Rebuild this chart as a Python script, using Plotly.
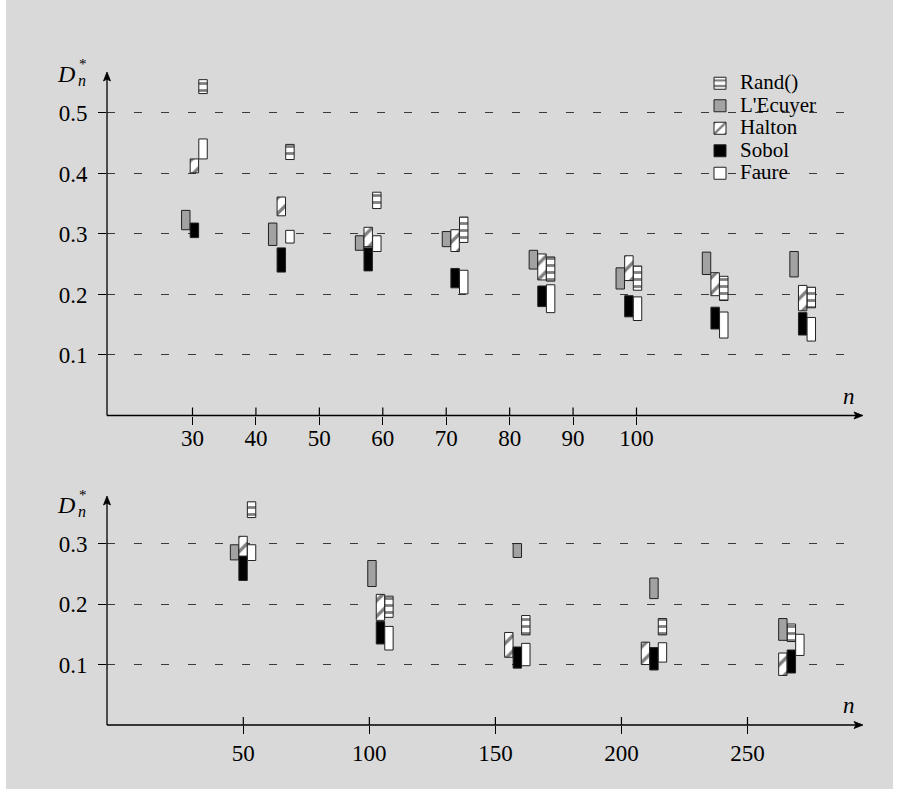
import plotly.graph_objects as go

# ---------------- data ----------------
methods = ["Rand()", "L'Ecuyer", "Halton", "Sobol", "Faure"]

# top panel
n_top = [30, 40, 50, 60, 70, 80, 90, 100]
top_lo = {
    "Rand()":   [0.532, 0.423, 0.342, 0.286, 0.222, 0.207, 0.190, 0.178],
    "L'Ecuyer": [0.307, 0.281, 0.273, 0.279, 0.242, 0.209, 0.233, 0.229],
    "Halton":   [0.401, 0.330, 0.279, 0.271, 0.224, 0.223, 0.198, 0.173],
    "Sobol":    [0.294, 0.237, 0.239, 0.211, 0.180, 0.163, 0.143, 0.133],
    "Faure":    [0.424, 0.285, 0.271, 0.201, 0.170, 0.157, 0.128, 0.123],
}
top_hi = {
    "Rand()":   [0.555, 0.448, 0.369, 0.328, 0.262, 0.247, 0.230, 0.212],
    "L'Ecuyer": [0.339, 0.318, 0.297, 0.304, 0.273, 0.244, 0.270, 0.271],
    "Halton":   [0.424, 0.361, 0.311, 0.307, 0.267, 0.264, 0.236, 0.215],
    "Sobol":    [0.318, 0.277, 0.277, 0.243, 0.214, 0.198, 0.179, 0.170],
    "Faure":    [0.457, 0.306, 0.297, 0.240, 0.216, 0.196, 0.171, 0.162],
}

# bottom panel
n_bot = [50, 100, 150, 200, 250]
bot_lo = {
    "Rand()":   [0.343, 0.178, 0.149, 0.149, 0.138],
    "L'Ecuyer": [0.273, 0.229, 0.277, 0.209, 0.140],
    "Halton":   [0.279, 0.173, 0.112, 0.100, 0.082],
    "Sobol":    [0.239, 0.134, 0.094, 0.091, 0.086],
    "Faure":    [0.272, 0.124, 0.098, 0.104, 0.115],
}
bot_hi = {
    "Rand()":   [0.369, 0.213, 0.181, 0.176, 0.167],
    "L'Ecuyer": [0.298, 0.272, 0.300, 0.243, 0.176],
    "Halton":   [0.312, 0.216, 0.153, 0.137, 0.119],
    "Sobol":    [0.279, 0.171, 0.129, 0.128, 0.124],
    "Faure":    [0.298, 0.163, 0.135, 0.136, 0.150],
}

y_ticks_top = [0.1, 0.2, 0.3, 0.4, 0.5]
y_ticks_bot = [0.1, 0.2, 0.3]

# ---------------- layout helpers (positions / styles) ----------------
W, H = 899, 805
L, R, T, B = 107, 49, 73, 80
PW, PH = W - L - R, H - T - B


def px_x(px):
    return (px - L) / PW


def px_y(py):
    return (H - B - py) / PH


def px_path(points):
    return "M" + " L".join(f"{px_x(a):.5f},{px_y(b):.5f}" for a, b in points) + " Z"


# where each group of bars is drawn on the axis (as in the original figure)
slot_top = [30.3, 44.0, 57.7, 71.4, 85.1, 98.8, 112.4, 126.2]
slot_bot = [49.9, 104.4, 158.7, 212.9, 267.4]
# column inside a group (-1 left, 0 middle, 1 right)
col_top = {"Rand()": [1] * 8, "L'Ecuyer": [-1] * 8, "Halton": [0] * 8,
           "Sobol": [0] * 8, "Faure": [1] * 8}
col_bot = {"Rand()": [1, 1, 1, 1, 0], "L'Ecuyer": [-1, -1, 0, 0, -1],
           "Halton": [0, 0, -1, -1, -1], "Sobol": [0, 0, 0, 0, 0],
           "Faure": [1, 1, 1, 1, 1]}
colstep_top, width_top = 1.36, 1.33
colstep_bot, width_bot = 3.37, 3.33

style = {
    "Rand()": dict(color="white", pattern=dict(shape="-", fgcolor="black", bgcolor="white",
                                                size=7, solidity=0.4)),
    "L'Ecuyer": dict(color="#a2a2a2"),
    "Halton": dict(color="white", pattern=dict(shape="/", fgcolor="black", bgcolor="white",
                                                size=11, solidity=0.3)),
    "Sobol": dict(color="black"),
    "Faure": dict(color="white"),
}

SERIF = "Liberation Serif, Times New Roman, serif"

fig = go.Figure()

for m in methods:
    st = style[m]
    marker = dict(color=st["color"], line=dict(color="#222222", width=1))
    if "pattern" in st:
        marker["pattern"] = st["pattern"]
    fig.add_trace(go.Bar(
        x=[s + c * colstep_top for s, c in zip(slot_top, col_top[m])],
        y=[h - l for h, l in zip(top_hi[m], top_lo[m])],
        base=top_lo[m], width=width_top,
        name=f'<span style="font-size:21px">{m}</span>', legendgroup=m,
        marker=marker, xaxis="x", yaxis="y", showlegend=True,
        customdata=n_top, hovertemplate="n=%{customdata}<extra>" + m + "</extra>",
    ))
for m in methods:
    st = style[m]
    marker = dict(color=st["color"], line=dict(color="#222222", width=1))
    if "pattern" in st:
        marker["pattern"] = st["pattern"]
    fig.add_trace(go.Bar(
        x=[s + c * colstep_bot for s, c in zip(slot_bot, col_bot[m])],
        y=[h - l for h, l in zip(bot_hi[m], bot_lo[m])],
        base=bot_lo[m], width=width_bot, name=m, legendgroup=m,
        marker=marker, xaxis="x2", yaxis="y2", showlegend=False,
        customdata=n_bot, hovertemplate="n=%{customdata}<extra>" + m + "</extra>",
    ))

top_xrange = [16.52, 133.66]
bot_xrange = [-4.07, 290.66]
tickfont = dict(family=SERIF, size=23, color="black")

common_x = dict(ticks="outside", ticklen=8, tickwidth=1.2, tickcolor="black",
                showgrid=False, zeroline=False, showline=False, tickfont=tickfont,
                fixedrange=True)
common_y = dict(ticks="outside", ticklen=8, tickwidth=1.2, tickcolor="black",
                showgrid=True, gridcolor="#3a3a3a", gridwidth=1, griddash="8px,19px",
                zeroline=False, showline=False, tickfont=tickfont, ticklabelstandoff=6,
                fixedrange=True)

# axis lines + arrow heads
ax_line = dict(type="line", xref="paper", yref="paper", line=dict(color="black", width=1.3))
head = dict(type="path", xref="paper", yref="paper", fillcolor="black",
            line=dict(color="black", width=0.8))
shapes = [
    dict(type="rect", xref="paper", yref="paper", x0=px_x(6), x1=px_x(893),
         y0=px_y(789), y1=px_y(0), fillcolor="#d9d9d9", line=dict(width=0), layer="below"),
    dict(x0=px_x(107), x1=px_x(107), y0=px_y(415.5), y1=px_y(75), **ax_line),
    dict(x0=px_x(107), x1=px_x(860), y0=px_y(415.5), y1=px_y(415.5), **ax_line),
    dict(x0=px_x(107), x1=px_x(107), y0=px_y(725), y1=px_y(499), **ax_line),
    dict(x0=px_x(107), x1=px_x(860), y0=px_y(725), y1=px_y(725), **ax_line),
    dict(path=px_path([(107, 72), (103.5, 81), (107, 79), (110.5, 81)]), **head),
    dict(path=px_path([(863, 415.5), (854, 412), (856, 415.5), (854, 419)]), **head),
    dict(path=px_path([(107, 496), (103.5, 505), (107, 503), (110.5, 505)]), **head),
    dict(path=px_path([(863, 725), (854, 721.5), (856, 725), (854, 728.5)]), **head),
]
# upper half of the x ticks (ticks cross the axis line)
tick_up = dict(type="line", yref="paper", line=dict(color="black", width=1.2))
shapes += [dict(xref="x", x0=v, x1=v, y0=px_y(415.5), y1=px_y(407.5), **tick_up) for v in n_top]
shapes += [dict(xref="x2", x0=v, x1=v, y0=px_y(725), y1=px_y(717), **tick_up) for v in n_bot]

fig.update_layout(
    width=W, height=H,
    margin=dict(l=L, r=R, t=T, b=B, pad=0),
    paper_bgcolor="white", plot_bgcolor="rgba(0,0,0,0)",
    barmode="overlay",
    font=dict(family=SERIF, color="black"),
    xaxis=dict(domain=[0, 1], anchor="y", range=top_xrange, tickvals=n_top,
               ticktext=[str(v) for v in n_top], ticklabelstandoff=-6, **common_x),
    yaxis=dict(domain=[px_y(415.5), px_y(73)], anchor="x", range=[0, 0.566],
               tickvals=y_ticks_top, ticktext=[f"{v:.1f}" for v in y_ticks_top], **common_y),
    xaxis2=dict(domain=[0, 1], anchor="y2", range=bot_xrange, tickvals=n_bot,
                ticktext=[str(v) for v in n_bot], ticklabelstandoff=-1, **common_x),
    yaxis2=dict(domain=[0, px_y(497)], anchor="x2", range=[0, 0.377],
                tickvals=y_ticks_bot, ticktext=[f"{v:.1f}" for v in y_ticks_bot], **common_y),
    legend=dict(x=px_x(700), y=px_y(67), xanchor="left", yanchor="top",
                bgcolor="rgba(0,0,0,0)", borderwidth=0, tracegroupgap=0,
                font=dict(family=SERIF, size=15, color="black"), traceorder="normal"),
    showlegend=True,
    shapes=shapes,
)


def txt(x, y, s, size):
    return dict(x=px_x(x), y=px_y(y), text=s, showarrow=False, xref="paper", yref="paper",
                xanchor="center", yanchor="middle",
                font=dict(family=SERIF, size=size, color="black"))


annotations = []
for yc in (74, 505):  # D*_n labels of the two panels: D, subscript n, superscript *
    annotations += [
        txt(66, yc, "<i>D</i>", 24),
        txt(82, yc + 6, "<i>n</i>", 16),
        txt(82.5, yc - 10, "*", 15),
    ]
annotations += [
    txt(849, 396, "<i>n</i>", 23),
    txt(849, 705, "<i>n</i>", 23),
]
fig.update_layout(annotations=annotations)

fig.write_html("out.html")
